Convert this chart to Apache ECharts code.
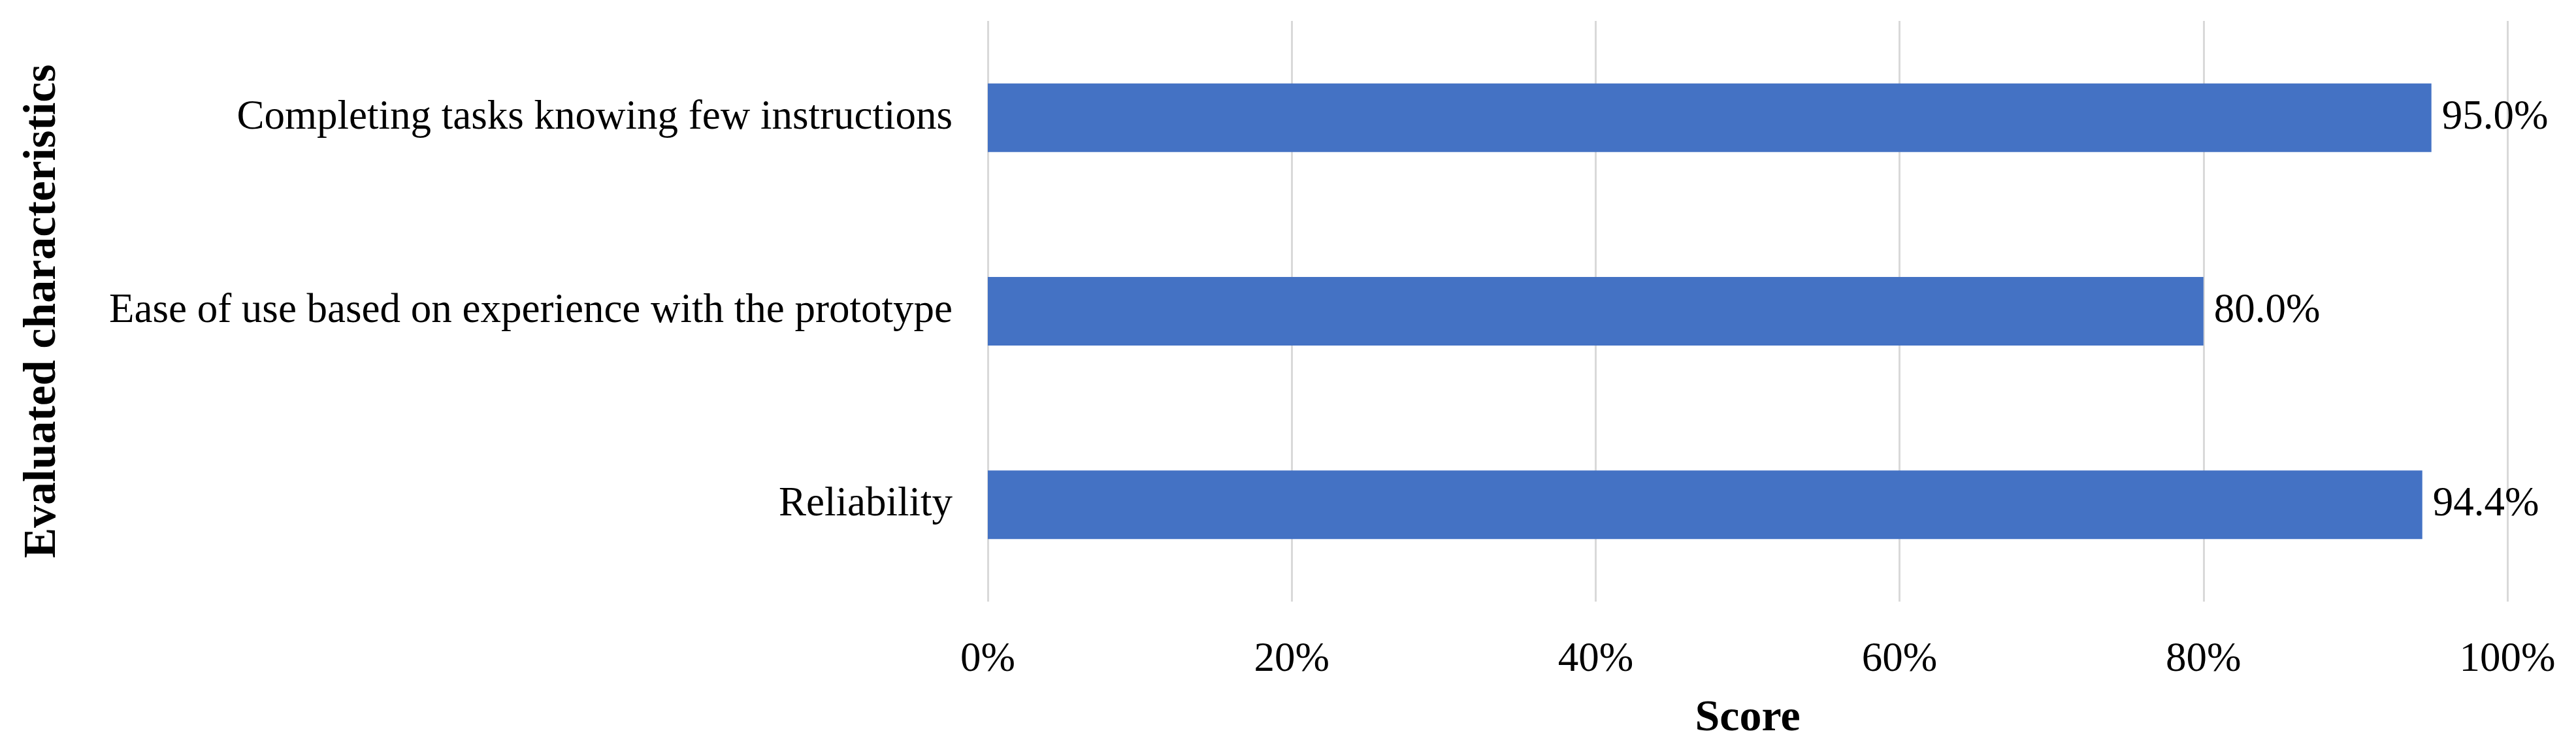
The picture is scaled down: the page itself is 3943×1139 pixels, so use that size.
<!DOCTYPE html>
<html>
<head>
<meta charset="utf-8">
<script src="https://cdn.jsdelivr.net/npm/echarts@6/dist/echarts.min.js"></script>
<style>
html,body{margin:0;padding:0;background:#fff;}
#chart{width:3943px;height:1139px;}
</style>
</head>
<body>
<div id="chart"></div>
<script>
const categories = [
  'Completing tasks knowing few instructions',
  'Ease of use based on experience with the prototype',
  'Reliability'
];
const scores = [95.0, 80.0, 94.4];
const xTicks = [0, 20, 40, 60, 80, 100];

const FONT = '"Liberation Serif", "Times New Roman", serif';
const chart = echarts.init(document.getElementById('chart'));
chart.setOption({
  backgroundColor: '#ffffff',
  animation: false,
  grid: { left: 1512, right: 105, top: 32, bottom: 216, containLabel: false },
  xAxis: {
    type: 'value',
    min: xTicks[0],
    max: xTicks[xTicks.length - 1],
    interval: xTicks[1] - xTicks[0],
    name: 'Score',
    nameLocation: 'middle',
    nameGap: 145,
    nameTextStyle: { fontFamily: FONT, fontSize: 68, fontWeight: 'bold', color: '#000' },
    axisLine: { show: false },
    axisTick: { show: false },
    axisLabel: { formatter: '{value}%', fontFamily: FONT, fontSize: 63, color: '#000', margin: 58 },
    splitLine: { show: true, lineStyle: { color: '#d9d9d9', width: 3 } }
  },
  yAxis: {
    type: 'category',
    data: categories,
    inverse: true,
    name: 'Evaluated characteristics',
    nameLocation: 'middle',
    nameGap: 1411,
    nameRotate: 90,
    nameTextStyle: { fontFamily: FONT, fontSize: 70, fontWeight: 'bold', color: '#000' },
    axisLine: { show: false },
    axisTick: { show: false },
    axisLabel: { fontFamily: FONT, fontSize: 63, color: '#000', margin: 54 },
    splitLine: { show: false }
  },
  series: [{
    type: 'bar',
    data: scores,
    barWidth: 105,
    itemStyle: { color: '#4472C4' },
    label: {
      show: true,
      position: 'right',
      distance: 16,
      fontFamily: FONT,
      fontSize: 63,
      color: '#000',
      formatter: p => p.value.toFixed(1) + '%'
    }
  }]
});
</script>
</body>
</html>
